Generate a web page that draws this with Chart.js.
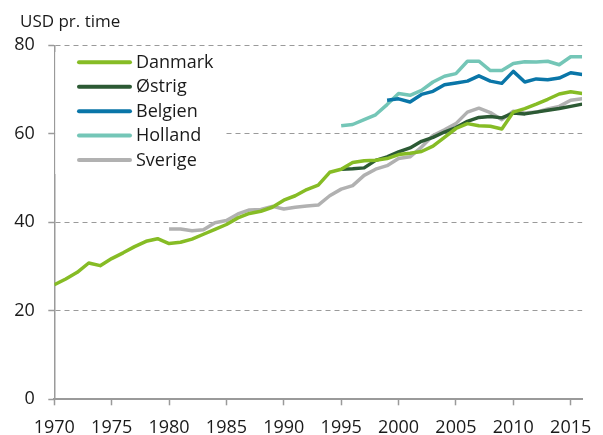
<!DOCTYPE html>
<html>
<head>
<meta charset="utf-8">
<script src="https://cdn.jsdelivr.net/npm/chart.js@4/dist/chart.umd.min.js"></script>
<style>
html,body{margin:0;padding:0;background:#fff;}
#wrap{width:603px;height:435px;position:relative;}
</style>
</head>
<body>
<div id="wrap"><canvas id="c" width="603" height="435"></canvas></div>
<script>
const years = [];
for (let y = 1970; y <= 2016; y++) years.push(y);

const seriesNames = ['Danmark', 'Østrig', 'Belgien', 'Holland', 'Sverige'];
const yAxisTitle = 'USD pr. time';
const yTicks = [0, 20, 40, 60, 80];
const xTicks = [1970, 1975, 1980, 1985, 1990, 1995, 2000, 2005, 2010, 2015];

// 1970..2016
const danmark = [25.9, 27.2, 28.7, 30.8, 30.2, 31.8, 33.1, 34.5, 35.7, 36.3,
  35.2, 35.5, 36.2, 37.3, 38.4, 39.5, 41.0, 42.0, 42.5, 43.4,
  45.0, 46.0, 47.4, 48.4, 51.3, 52.0, 53.5, 53.9, 54.0, 54.4,
  55.3, 55.6, 56.0, 57.2, 59.2, 61.2, 62.3, 61.8, 61.7, 61.1,
  64.9, 65.7, 66.7, 67.8, 69.0, 69.5, 69.1];
const oestrig = [null, null, null, null, null, null, null, null, null, null,
  null, null, null, null, null, null, null, null, null, null,
  null, null, null, null, null, 52.0, 52.1, 52.3, 54.0, 54.8,
  55.9, 56.8, 58.3, 59.2, 60.4, 61.4, 62.8, 63.7, 63.9, 63.6,
  64.7, 64.5, 64.9, 65.3, 65.7, 66.2, 66.7];
const belgien = [null, null, null, null, null, null, null, null, null, null,
  null, null, null, null, null, null, null, null, null, null,
  null, null, null, null, null, null, null, null, null, 67.6,
  67.9, 67.2, 68.9, 69.6, 71.1, 71.5, 71.9, 73.1, 71.9, 71.4,
  74.1, 71.7, 72.4, 72.2, 72.6, 73.8, 73.4];
const holland = [null, null, null, null, null, null, null, null, null, null,
  null, null, null, null, null, null, null, null, null, null,
  null, null, null, null, null, 61.8, 62.1, 63.2, 64.3, 66.6,
  69.1, 68.7, 69.8, 71.7, 73.0, 73.6, 76.4, 76.4, 74.3, 74.3,
  75.9, 76.3, 76.2, 76.4, 75.6, 77.4, 77.4];
const sverige = [null, null, null, null, null, null, null, null, null, null,
  38.5, 38.5, 38.1, 38.3, 39.9, 40.4, 41.9, 42.8, 42.9, 43.6,
  43.0, 43.4, 43.7, 43.9, 46.0, 47.5, 48.3, 50.6, 52.0, 52.8,
  54.4, 54.8, 57.0, 59.6, 60.9, 62.3, 64.9, 65.8, 64.8, 63.2,
  65.1, 64.7, 64.9, 65.6, 66.2, 67.6, 67.9];

const seriesValues = [danmark, oestrig, belgien, holland, sverige];
const colors = ['#86bc25', '#2c5a34', '#0a76a8', '#74c6b7', '#b1b1b1'];

const FONT = "'Open Sans', 'Noto Sans', sans-serif";
const TEXT = '#1a1a1a';
const AXIS = '#9a9a9a';

const datasets = seriesNames.map((name, i) => ({
  label: name,
  data: years.map((yr, j) => ({ x: yr, y: seriesValues[i][j] })),
  borderColor: colors[i],
  backgroundColor: colors[i],
  borderWidth: 3.5,
  pointRadius: 0,
  tension: 0,
  spanGaps: false,
  borderJoinStyle: 'round',
  fill: false
}));

const legendAndTitle = {
  id: 'legendAndTitle',
  beforeDatasetsDraw(chart) {
    const ctx = chart.ctx;
    const ca = chart.chartArea;
    ctx.save();
    ctx.fillStyle = '#fff';
    ctx.fillRect(ca.left + 1, 52, 226 - ca.left - 1, 122);
    const rowY = [62.3, 86.8, 111.2, 135.6, 160.1];
    ctx.font = '18px ' + FONT;
    ctx.textBaseline = 'middle';
    ctx.textAlign = 'left';
    chart.data.datasets.forEach((ds, i) => {
      const y = rowY[i];
      ctx.strokeStyle = ds.borderColor;
      ctx.lineWidth = 4;
      ctx.lineCap = 'round';
      ctx.beginPath();
      ctx.moveTo(79, y);
      ctx.lineTo(130, y);
      ctx.stroke();
      ctx.fillStyle = TEXT;
      ctx.fillText(ds.label, 136, y + 0.5);
    });
    ctx.restore();
  },
  afterDraw(chart) {
    const ctx = chart.ctx;
    ctx.save();
    ctx.font = '17px ' + FONT;
    ctx.fillStyle = TEXT;
    ctx.textBaseline = 'alphabetic';
    ctx.textAlign = 'left';
    ctx.fillText(yAxisTitle, 20, 27);
    ctx.restore();
  }
};

new Chart(document.getElementById('c'), {
  type: 'line',
  data: { datasets },
  plugins: [legendAndTitle],
  options: {
    responsive: false,
    animation: false,
    devicePixelRatio: 1,
    layout: { padding: { top: 45.3, right: 10.5, left: 0, bottom: 0 } },
    plugins: { legend: { display: false }, tooltip: { enabled: false }, title: { display: false } },
    scales: {
      x: {
        type: 'linear',
        min: 1970,
        max: 2016,
        afterBuildTicks(scale) { scale.ticks = xTicks.map(v => ({ value: v })); },
        afterFit(scale) { scale.height = 35.7; },
        ticks: {
          autoSkip: false,
          maxRotation: 0,
          padding: 11.5,
          color: TEXT,
          font: { family: FONT, size: 18 },
          callback: v => String(v)
        },
        grid: { drawOnChartArea: false, drawTicks: true, tickLength: 6, tickColor: AXIS, tickWidth: 1.5 },
        border: { display: true, color: AXIS, width: 2 }
      },
      y: {
        min: 0,
        max: 80,
        afterBuildTicks(scale) { scale.ticks = yTicks.map(v => ({ value: v })); },
        afterFit(scale) { scale.width = 54.3; },
        ticks: {
          padding: 13.5,
          color: TEXT,
          font: { family: FONT, size: 18 },
          callback: v => String(v)
        },
        grid: { color: AXIS, lineWidth: 1, drawTicks: true, tickLength: 6, tickColor: AXIS, tickWidth: 1.5 },
        border: { display: true, color: AXIS, width: 1.5, dash: [5, 4] }
      }
    }
  }
});
</script>
</body>
</html>
